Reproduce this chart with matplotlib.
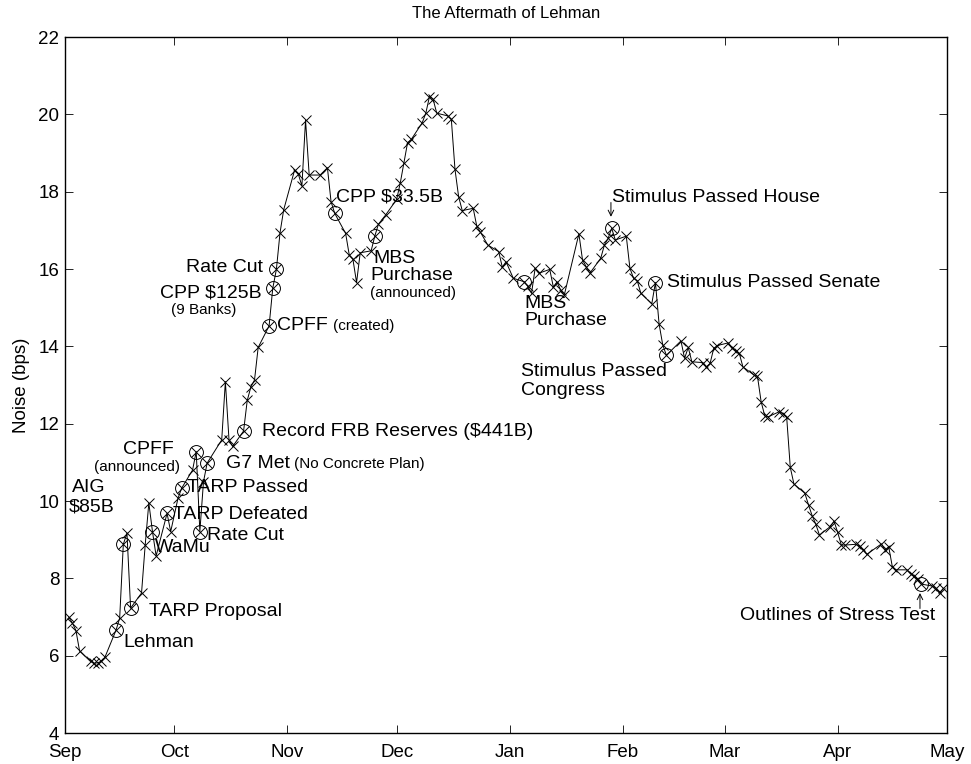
import matplotlib
matplotlib.use("Agg")
import matplotlib.pyplot as plt
import matplotlib.dates as mdates
import numpy as np

plt.rcParams['font.family'] = ['Liberation Sans', 'DejaVu Sans']

# ---------------- data ----------------
dates = [
 "2008-09-02","2008-09-03","2008-09-04","2008-09-05","2008-09-08","2008-09-09","2008-09-10","2008-09-11","2008-09-12",
 "2008-09-15","2008-09-16","2008-09-17","2008-09-18","2008-09-19","2008-09-22","2008-09-23","2008-09-24","2008-09-25",
 "2008-09-26","2008-09-29","2008-09-30","2008-10-02","2008-10-03","2008-10-06","2008-10-07","2008-10-08","2008-10-09",
 "2008-10-10","2008-10-14","2008-10-15","2008-10-16","2008-10-17","2008-10-20","2008-10-21","2008-10-22","2008-10-23",
 "2008-10-24","2008-10-27","2008-10-28","2008-10-29","2008-10-30","2008-10-31","2008-11-03","2008-11-04","2008-11-05",
 "2008-11-06","2008-11-07","2008-11-10","2008-11-12","2008-11-13","2008-11-14","2008-11-17","2008-11-18","2008-11-19",
 "2008-11-20","2008-11-21","2008-11-24","2008-11-25","2008-11-26","2008-11-28","2008-12-01","2008-12-02","2008-12-03",
 "2008-12-04","2008-12-05","2008-12-08","2008-12-09","2008-12-10","2008-12-11","2008-12-12","2008-12-15","2008-12-16",
 "2008-12-17","2008-12-18","2008-12-19","2008-12-22","2008-12-23","2008-12-24","2008-12-26","2008-12-29","2008-12-30",
 "2008-12-31","2009-01-02","2009-01-05","2009-01-06","2009-01-07","2009-01-08","2009-01-09","2009-01-12","2009-01-13",
 "2009-01-14","2009-01-15","2009-01-16","2009-01-20","2009-01-21","2009-01-22","2009-01-23","2009-01-26","2009-01-27",
 "2009-01-28","2009-01-29","2009-01-30","2009-02-02","2009-02-03","2009-02-04","2009-02-05","2009-02-06","2009-02-09",
 "2009-02-10","2009-02-11","2009-02-12","2009-02-13","2009-02-17","2009-02-18","2009-02-19","2009-02-20","2009-02-23",
 "2009-02-24","2009-02-25","2009-02-26","2009-02-27","2009-03-02","2009-03-03","2009-03-04","2009-03-05","2009-03-06",
 "2009-03-09","2009-03-10","2009-03-11","2009-03-12","2009-03-13","2009-03-16","2009-03-17","2009-03-18","2009-03-19",
 "2009-03-20","2009-03-23","2009-03-24","2009-03-25","2009-03-26","2009-03-27","2009-03-30","2009-03-31","2009-04-01",
 "2009-04-02","2009-04-03","2009-04-06","2009-04-07","2009-04-08","2009-04-09","2009-04-13","2009-04-14","2009-04-15",
 "2009-04-16","2009-04-17","2009-04-20","2009-04-21","2009-04-22","2009-04-23","2009-04-24","2009-04-27","2009-04-28",
 "2009-04-29","2009-04-30",
]
noise = [
 7.00, 6.85, 6.65, 6.12, 5.85, 5.80, 5.82, 5.85, 5.97,
 6.66, 6.97, 8.88, 9.17, 7.23, 7.62, 8.86, 9.95, 9.21,
 8.58, 9.68, 9.21, 10.07, 10.33, 10.80, 11.28, 9.21, 10.50,
 10.98, 11.58, 13.09, 11.58, 11.41, 11.81, 12.60, 12.95, 13.13,
 13.97, 14.53, 15.50, 15.99, 16.94, 17.53, 18.56, 18.46, 18.15,
 19.85, 18.43, 18.43, 18.62, 17.74, 17.44, 16.92, 16.36, 16.25,
 15.65, 16.42, 16.47, 16.85, 17.16, 17.40, 17.80, 18.23, 18.75,
 19.27, 19.35, 19.78, 20.03, 20.46, 20.39, 20.03, 19.96, 19.87,
 18.58, 17.87, 17.51, 17.57, 17.10, 16.95, 16.62, 16.45, 16.04,
 16.19, 15.76, 15.67, 15.55, 15.37, 16.02, 15.89, 15.99, 15.53,
 15.67, 15.45, 15.33, 16.91, 16.23, 16.06, 15.89, 16.28, 16.62,
 16.79, 17.05, 16.75, 16.85, 16.02, 15.76, 15.70, 15.37, 15.10,
 15.65, 14.58, 14.04, 13.77, 14.14, 13.69, 13.97, 13.60, 13.58,
 13.47, 13.56, 13.95, 14.02, 14.09, 13.95, 13.88, 13.82, 13.47,
 13.26, 13.22, 12.57, 12.20, 12.18, 12.31, 12.25, 12.18, 10.87,
 10.44, 10.20, 9.90, 9.62, 9.40, 9.12, 9.34, 9.48, 9.19,
 8.86, 8.86, 8.88, 8.84, 8.73, 8.62, 8.89, 8.73, 8.82,
 8.30, 8.22, 8.22, 8.12, 8.05, 7.97, 7.85, 7.80, 7.74,
 7.61, 7.74,
]

event_dates = ["2008-09-15","2008-09-17","2008-09-19","2008-09-25","2008-09-29","2008-10-03",
               "2008-10-07","2008-10-08","2008-10-10","2008-10-20","2008-10-27","2008-10-28",
               "2008-10-29","2008-11-14","2008-11-25","2009-01-05","2009-01-29","2009-02-10",
               "2009-02-13","2009-04-24"]

# annotation texts: (text, date, value, size-kind)
labels = [
 ("Lehman", "2008-09-17", 6.33, "big"),
 ("AIG", "2008-09-03", 10.36, "big"),
 ("$85B", "2008-09-02", 9.85, "big"),
 ("TARP Proposal", "2008-09-24", 7.13, "big"),
 ("WaMu", "2008-09-25 16:00", 8.79, "big"),
 ("CPFF", "2008-09-17", 11.33, "big"),
 ("(announced)", "2008-09-09", 10.88, "small"),
 ("TARP Defeated", "2008-09-30 14:00", 9.66, "big"),
 ("TARP Passed", "2008-10-04 12:00", 10.34, "big"),
 ("Rate Cut", "2008-10-10", 9.10, "big"),
 ("G7 Met", "2008-10-15 05:00", 10.96, "big"),
 ("(No Concrete Plan)", "2008-11-02 20:00", 10.96, "small"),
 ("Record FRB Reserves ($441B)", "2008-10-25", 11.79, "big"),
 ("CPFF", "2008-10-29 05:00", 14.53, "big"),
 ("(created)", "2008-11-13 12:00", 14.53, "small"),
 ("CPP $125B", "2008-09-27 02:00", 15.38, "big"),
 ("(9 Banks)", "2008-09-30 02:00", 14.94, "small"),
 ("Rate Cut", "2008-10-04 05:00", 16.03, "big"),
 ("CPP $33.5B", "2008-11-14 07:00", 17.86, "big"),
 ("MBS", "2008-11-24 12:00", 16.26, "big"),
 ("Purchase", "2008-11-23 17:00", 15.82, "big"),
 ("(announced)", "2008-11-23 17:00", 15.38, "small"),
 ("MBS", "2009-01-05", 15.10, "big"),
 ("Purchase", "2009-01-05", 14.66, "big"),
 ("Stimulus Passed House", "2009-01-29 02:00", 17.86, "big"),
 ("Stimulus Passed Senate", "2009-02-13 05:00", 15.64, "big"),
 ("Stimulus Passed", "2009-01-04 02:00", 13.36, "big"),
 ("Congress", "2009-01-04 02:00", 12.87, "big"),
 ("Outlines of Stress Test", "2009-03-05 05:00", 7.05, "big"),
]
arrows = [  # (date, from value, to value)
 ("2009-01-28 19:00", 17.72, 17.35),
 ("2009-04-23 14:00", 7.22, 7.62),
]

# ---------------- plot ----------------
fig = plt.figure(figsize=(9.71, 7.64), dpi=100)
ax = fig.add_axes([65/971, 1-733/764, (947-65)/971, (733-37)/764])

x = [np.datetime64(d) for d in dates]
ax.plot(x, noise, color='black', lw=0.7, marker='x', ms=6.5, mew=0.7)

lookup = dict(zip(dates, noise))
ex = [np.datetime64(d) for d in event_dates]
ey = [lookup[d] for d in event_dates]
ax.plot(ex, ey, ls='none', marker='o', ms=10, mfc='none', mec='black', mew=0.7)

sizes = {"big": 14, "small": 11}
for t, d, v, k in labels:
    ax.text(np.datetime64(d), v, t, fontsize=sizes[k], ha='left', va='center', color='black')

for d, v0, v1 in arrows:
    ax.annotate("", xy=(np.datetime64(d), v1), xytext=(np.datetime64(d), v0),
                arrowprops=dict(arrowstyle='->', lw=0.7, color='black', shrinkA=0, shrinkB=0))

ax.set_xlim(np.datetime64("2008-09-01"), np.datetime64("2009-05-01"))
ax.set_ylim(4, 22)
ax.set_yticks(np.arange(4, 23, 2))
ax.xaxis.set_major_locator(mdates.MonthLocator())
ax.xaxis.set_major_formatter(mdates.DateFormatter('%b'))
ax.tick_params(direction='in', top=True, right=True, labelsize=13.5, length=6, width=0.6)
ax.tick_params(axis='x', pad=8)
ax.tick_params(axis='y', pad=4)
for s in ax.spines.values():
    s.set_linewidth(1.0)
ax.set_ylabel("Noise (bps)", fontsize=13.5, labelpad=6)
ax.set_title("The Aftermath of Lehman", fontsize=12, pad=14)

fig.savefig("out.png", dpi=100)
